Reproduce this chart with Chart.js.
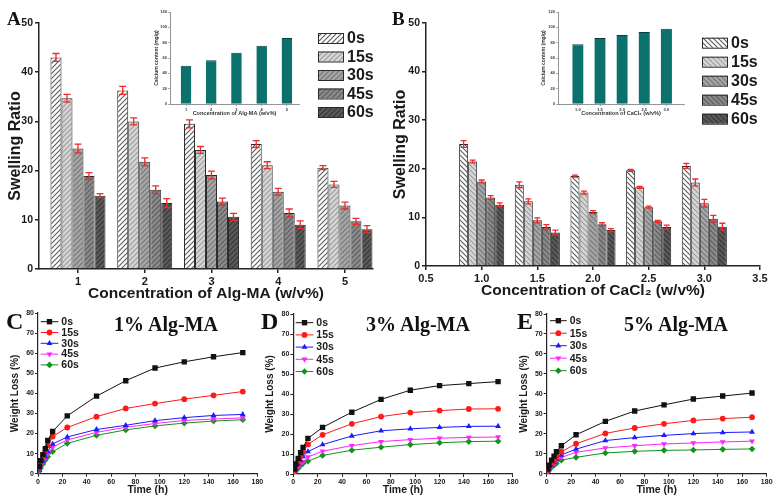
<!DOCTYPE html>
<html>
<head>
<meta charset="utf-8">
<script src="https://cdn.jsdelivr.net/npm/chart.js@4.4.1/dist/chart.umd.min.js"></script>
<style>
  body { margin: 0; background: #fff; }
  #fig { position: relative; width: 778px; height: 503px; overflow: hidden; background: #fff; }
  .panel { position: absolute; }
  .letter { position: absolute; font: bold 19px "Times New Roman", "Liberation Serif", serif; line-height: 1; color: #111; }
  .big { font-size: 24px; }
  .title { position: absolute; width: 130px; text-align: center; font: bold 20px "Times New Roman", "Liberation Serif", serif; line-height: 1; color: #111; }
</style>
</head>
<body>
<div id="fig">
  <div class="panel" style="left:0;top:0;width:390px;height:305px"><canvas id="chartA"></canvas></div>
  <div class="panel" style="left:385px;top:0;width:393px;height:305px"><canvas id="chartB"></canvas></div>
  <div class="panel" style="left:150px;top:0;width:160px;height:122px"><canvas id="insetA"></canvas></div>
  <div class="panel" style="left:535px;top:0;width:160px;height:122px"><canvas id="insetB"></canvas></div>
  <div class="panel" style="left:0;top:300px;width:270px;height:203px"><canvas id="chartC"></canvas></div>
  <div class="panel" style="left:255px;top:300px;width:270px;height:203px"><canvas id="chartD"></canvas></div>
  <div class="panel" style="left:510px;top:300px;width:268px;height:203px"><canvas id="chartE"></canvas></div>
  <div class="letter" style="left:7px;top:9px">A</div>
  <div class="letter" style="left:392px;top:9px">B</div>
  <div class="letter big" style="left:6px;top:309px">C</div>
  <div class="letter big" style="left:261px;top:309px">D</div>
  <div class="letter big" style="left:517px;top:309px">E</div>
  <div class="title" style="left:101px;top:314px">1% Alg-MA</div>
  <div class="title" style="left:353px;top:314px">3% Alg-MA</div>
  <div class="title" style="left:611px;top:314px">5% Alg-MA</div>
</div>
<script>
Chart.defaults.font.family = 'Arial, "Liberation Sans", sans-serif';
Chart.defaults.font.weight = 'bold';
Chart.defaults.color = "#1a1a1a";
Chart.defaults.animation = false;

// ---- data ----
const cureTimes = ["0s", "15s", "30s", "45s", "60s"];

const algConc = [1, 2, 3, 4, 5];
const swellingAlg = [
  [43.0, 36.3, 29.5, 25.4, 20.6],
  [34.7, 30.0, 24.2, 21.1, 17.2],
  [24.5, 21.8, 19.1, 15.7, 12.9],
  [18.9, 16.1, 13.7, 11.4, 9.7],
  [14.9, 13.4, 10.6, 9.0, 8.1]
];
const swellingAlgErr = [
  [0.8, 0.8, 0.8, 0.7, 0.4],
  [0.8, 0.7, 0.7, 0.7, 0.6],
  [0.9, 0.8, 0.8, 0.7, 0.7],
  [0.7, 0.8, 0.7, 0.8, 0.6],
  [0.4, 0.9, 0.7, 0.8, 0.7]
];

const caConc = [1.0, 1.5, 2.0, 2.5, 3.0];
const swellingCa = [
  [25.1, 16.7, 18.5, 19.7, 20.6],
  [21.5, 13.3, 15.1, 16.2, 17.2],
  [17.4, 9.4, 11.1, 12.1, 12.9],
  [14.1, 8.0, 8.6, 9.2, 9.7],
  [12.6, 6.9, 7.4, 8.0, 8.1]
];
const swellingCaErr = [
  [0.7, 0.6, 0.2, 0.2, 0.5],
  [0.3, 0.5, 0.3, 0.2, 0.7],
  [0.3, 0.5, 0.3, 0.2, 0.8],
  [0.4, 0.5, 0.3, 0.2, 0.7],
  [0.4, 0.5, 0.3, 0.4, 0.7]
];

const calciumAlg = [50, 57, 67, 76, 86];
const calciumCa = [78, 86, 90, 94, 98];

const hours = [1, 2, 4, 6, 8, 12, 24, 48, 72, 96, 120, 144, 168];
const loss1 = [
  [3.5, 6.5, 9.5, 12.5, 16.5, 21.0, 28.8, 38.6, 46.3, 52.6, 55.7, 58.2, 60.3],
  [3.0, 5.5, 8.5, 11.0, 14.0, 18.5, 23.0, 28.4, 32.5, 34.9, 37.1, 39.0, 40.9],
  [2.0, 4.0, 6.3, 8.5, 11.0, 14.8, 18.3, 22.0, 24.1, 26.4, 27.9, 29.0, 29.5],
  [1.7, 3.5, 5.6, 7.6, 9.8, 13.2, 16.8, 20.6, 23.1, 25.0, 26.5, 27.2, 27.8],
  [1.2, 2.7, 4.8, 6.8, 8.5, 11.0, 15.1, 19.1, 21.8, 23.8, 25.2, 26.2, 26.9]
];
const loss3 = [
  [2.5, 5.0, 7.8, 10.7, 13.3, 17.8, 23.3, 30.9, 37.3, 41.9, 44.2, 45.2, 46.2],
  [2.0, 3.7, 6.2, 8.7, 11.2, 14.8, 19.6, 25.1, 28.7, 30.7, 31.7, 32.5, 32.6],
  [1.5, 2.8, 4.8, 6.7, 8.7, 11.2, 14.7, 19.0, 21.6, 22.6, 23.3, 23.8, 23.9],
  [1.0, 2.0, 3.7, 5.0, 6.2, 8.5, 11.4, 14.2, 16.2, 17.2, 17.9, 18.3, 18.5],
  [0.8, 1.7, 2.8, 4.3, 5.3, 6.4, 9.3, 11.9, 13.4, 14.7, 15.6, 16.2, 16.4]
];
const loss5 = [
  [2.3, 4.3, 6.8, 8.8, 11.0, 14.0, 19.5, 26.2, 31.4, 34.5, 37.4, 38.9, 40.4],
  [1.8, 3.0, 5.2, 6.8, 8.5, 11.0, 15.0, 20.2, 22.9, 25.0, 26.7, 27.6, 28.3],
  [1.5, 2.7, 4.3, 5.7, 7.2, 9.4, 12.3, 16.6, 18.1, 19.2, 20.1, 20.6, 20.9],
  [1.2, 2.2, 4.0, 5.2, 6.5, 8.2, 10.7, 12.9, 14.0, 14.9, 15.4, 15.9, 16.3],
  [1.0, 1.8, 3.2, 4.2, 5.2, 6.8, 8.2, 10.4, 11.2, 11.7, 11.9, 12.2, 12.4]
];

// ---- styles ----
const hatchBg = ["#ffffff", "#d6d6d6", "#a6a6a6", "#8a8a8a", "#5a5a5a"];
const hatchFg = ["#5a5a5a", "#9c9c9c", "#747474", "#5c5c5c", "#363636"];
const lineColors = ["#111111", "#ff1a1a", "#1a1aff", "#ff22ff", "#12931a"];
const lineMarkers = ["rect", "circle", "triangle", "triangle", "rectRot"];
const markerTurn = [0, 0, 0, 180, 0];
const markerSize = [3.8, 2.9, 3.4, 3.4, 3.3];

function hatch(bg, fg, slash) {
  const s = 5;
  const c = document.createElement("canvas");
  c.width = s;
  c.height = s;
  const g = c.getContext("2d");
  g.fillStyle = bg;
  g.fillRect(0, 0, s, s);
  g.strokeStyle = fg;
  g.lineWidth = 1.1;
  g.beginPath();
  if (slash) {
    g.moveTo(0, s); g.lineTo(s, 0);
    g.moveTo(-1, 1); g.lineTo(1, -1);
    g.moveTo(s - 1, s + 1); g.lineTo(s + 1, s - 1);
  } else {
    g.moveTo(0, 0); g.lineTo(s, s);
    g.moveTo(-1, s - 1); g.lineTo(1, s + 1);
    g.moveTo(s - 1, -1); g.lineTo(s + 1, 1);
  }
  g.stroke();
  return g.createPattern(c, "repeat");
}

function drawMarker(ctx, style, turn, x, y, r) {
  ctx.beginPath();
  if (style === "rect") {
    const h = r * Math.SQRT1_2;
    ctx.rect(x - h, y - h, 2 * h, 2 * h);
  } else if (style === "circle") {
    ctx.arc(x, y, r, 0, Math.PI * 2);
  } else if (style === "rectRot") {
    ctx.moveTo(x, y - r); ctx.lineTo(x + r, y); ctx.lineTo(x, y + r); ctx.lineTo(x - r, y);
  } else {
    const a0 = (turn * Math.PI) / 180 - Math.PI / 2;
    for (let k = 0; k < 3; k += 1) {
      const a = a0 + (k * 2 * Math.PI) / 3;
      const px = x + r * Math.cos(a);
      const py = y + r * Math.sin(a);
      if (k === 0) ctx.moveTo(px, py); else ctx.lineTo(px, py);
    }
  }
  ctx.closePath();
  ctx.fill();
}

// legend drawn inside the plot, like the original figure
function boxLegend(cfg) {
  return {
    id: "boxLegend",
    afterDraw(chart) {
      const ctx = chart.ctx;
      ctx.save();
      ctx.font = "bold 16px Arial, 'Liberation Sans', sans-serif";
      ctx.textBaseline = "middle";
      chart.data.datasets.forEach((ds, i) => {
        const y = cfg.y + i * cfg.step;
        ctx.fillStyle = ds.backgroundColor;
        ctx.fillRect(cfg.x, y - 5, 25, 10);
        ctx.strokeStyle = "#2a2a2a";
        ctx.lineWidth = 1;
        ctx.strokeRect(cfg.x + 0.5, y - 5 + 0.5, 25, 10);
        ctx.fillStyle = "#1a1a1a";
        ctx.fillText(ds.label, cfg.x + 29, y + 1);
      });
      ctx.restore();
    }
  };
}

function lineLegend(cfg) {
  return {
    id: "lineLegend",
    afterDraw(chart) {
      const ctx = chart.ctx;
      ctx.save();
      ctx.font = "bold 10.5px Arial, 'Liberation Sans', sans-serif";
      ctx.textBaseline = "middle";
      chart.data.datasets.forEach((ds, i) => {
        const y = cfg.y + i * cfg.step;
        ctx.strokeStyle = ds.borderColor;
        ctx.fillStyle = ds.borderColor;
        ctx.lineWidth = 1;
        ctx.beginPath();
        ctx.moveTo(cfg.x, y);
        ctx.lineTo(cfg.x + cfg.w, y);
        ctx.stroke();
        drawMarker(ctx, ds.pointStyle, ds.rotation || 0, cfg.x + cfg.w / 2, y, ds.pointRadius);
        ctx.fillStyle = "#1a1a1a";
        ctx.fillText(ds.label, cfg.x + cfg.w + 3, y + 0.5);
      });
      ctx.restore();
    }
  };
}

const errorBars = {
  id: "errorBars",
  afterDatasetsDraw(chart) {
    const ctx = chart.ctx;
    const yScale = chart.scales.y;
    ctx.save();
    ctx.strokeStyle = "#ee2a2a";
    ctx.lineWidth = 1.3;
    chart.data.datasets.forEach((ds, i) => {
      if (!ds.errors) return;
      chart.getDatasetMeta(i).data.forEach((bar, j) => {
        const v = ds.data[j].y;
        const e = ds.errors[j];
        const top = yScale.getPixelForValue(v + e);
        const bot = yScale.getPixelForValue(v - e);
        const half = ds.capHalf;
        ctx.beginPath();
        ctx.moveTo(bar.x, top); ctx.lineTo(bar.x, bot);
        ctx.moveTo(bar.x - half, top); ctx.lineTo(bar.x + half, top);
        ctx.moveTo(bar.x - half, bot); ctx.lineTo(bar.x + half, bot);
        ctx.stroke();
      });
    });
    ctx.restore();
  }
};

function axisLine(width, color) {
  return { color, width };
}

function swellingChart(id, xs, rows, errs, opts) {
  new Chart(document.getElementById(id), {
    type: "bar",
    data: {
      datasets: rows.map((row, i) => ({
        label: cureTimes[i],
        data: xs.map((x, k) => ({ x, y: row[k] })),
        errors: errs[i],
        capHalf: opts.capHalf,
        backgroundColor: hatch(hatchBg[i], hatchFg[i], opts.slash),
        borderColor: "#2a2a2a",
        borderWidth: 1,
        categoryPercentage: opts.group,
        barPercentage: 1
      }))
    },
    options: {
      responsive: true,
      maintainAspectRatio: false,
      events: [],
      layout: { padding: { top: 23, right: opts.right, bottom: 0, left: 0 } },
      plugins: { legend: { display: false }, tooltip: { enabled: false } },
      scales: {
        x: {
          type: "linear",
          min: opts.xMin,
          max: opts.xMax,
          offset: false,
          afterBuildTicks: opts.ticks ? (axis) => { axis.ticks = opts.ticks.map((value) => ({ value })); } : undefined,
          ticks: { stepSize: opts.step, font: { size: 11 }, padding: 2, callback: opts.fmt },
          grid: { offset: false, drawOnChartArea: false, tickLength: 4, color: "#222", lineWidth: 1.5 },
          border: axisLine(1.5, "#222"),
          title: { display: true, text: opts.xTitle, font: { size: 15.5 }, padding: { top: 0, bottom: opts.titlePad } },
          afterFit(scale) { scale.height = opts.xHeight; }
        },
        y: {
          min: 0,
          max: 50,
          ticks: { stepSize: 10, font: { size: 10.5 }, padding: 2 },
          grid: { drawOnChartArea: false, tickLength: 4, color: "#222", lineWidth: 1.5 },
          border: axisLine(1.5, "#222"),
          title: { display: true, text: "Swelling Ratio", font: { size: 16 }, padding: { top: 6, bottom: 0 } },
          afterFit(scale) { scale.width = opts.yWidth; }
        }
      }
    },
    plugins: [errorBars, boxLegend(opts.legend)]
  });
}

swellingChart("chartA", algConc, swellingAlg, swellingAlgErr, {
  slash: true, group: 0.824, capHalf: 3.5, right: 17, xMin: 0.416, xMax: 5.42,
  ticks: algConc, step: 1, fmt: undefined,
  xTitle: "Concentration of Alg-MA (w/v%)", titlePad: 2, xHeight: 36, yWidth: 39,
  legend: { x: 318, y: 38, step: 18.5 }
});

swellingChart("chartB", caConc, swellingCa, swellingCaErr, {
  slash: false, group: 0.81, capHalf: 3, right: 18, xMin: 0.5, xMax: 3.5,
  ticks: null, step: 0.5, fmt: (v) => Number(v).toFixed(1),
  xTitle: "Concentration of CaCl\u2082 (w/v%)", titlePad: 5, xHeight: 39, yWidth: 41,
  legend: { x: 317, y: 42.7, step: 19 }
});

function calciumInset(id, xs, values, opts) {
  new Chart(document.getElementById(id), {
    type: "bar",
    data: {
      datasets: [{
        data: xs.map((x, k) => ({ x, y: values[k] })),
        backgroundColor: "#0a716d",
        borderColor: "#083f3d",
        borderWidth: { top: 1, left: 0, right: 0, bottom: 0 },
        categoryPercentage: 1,
        barPercentage: opts.bar
      }]
    },
    options: {
      responsive: true,
      maintainAspectRatio: false,
      events: [],
      layout: { padding: { top: 12, right: opts.right, bottom: 0, left: 0 } },
      plugins: { legend: { display: false }, tooltip: { enabled: false } },
      scales: {
        x: {
          type: "linear",
          min: opts.xMin,
          max: opts.xMax,
          offset: false,
          afterBuildTicks: (axis) => { axis.ticks = xs.map((value) => ({ value })); },
          ticks: { font: { size: 4 }, padding: 1, color: "#333", callback: opts.fmt },
          grid: { offset: false, drawOnChartArea: false, tickLength: 2, color: "#777", lineWidth: 0.6 },
          border: axisLine(0.8, "#777"),
          title: { display: true, text: opts.xTitle, color: "#333", font: { size: 5.5 }, padding: { top: 0, bottom: 5.7 } },
          afterFit(scale) { scale.height = 18; }
        },
        y: {
          min: 0,
          max: 120,
          ticks: { stepSize: 20, font: { size: 4 }, padding: 1, color: "#333" },
          grid: { drawOnChartArea: false, tickLength: 2, color: "#777", lineWidth: 0.6 },
          border: axisLine(0.8, "#777"),
          title: { display: true, text: "Calcium content (mg/g)", color: "#333", font: { size: 5 }, padding: { top: opts.yPad, bottom: 0 } },
          afterFit(scale) { scale.width = opts.yWidth; }
        }
      }
    }
  });
}

calciumInset("insetA", algConc, calciumAlg, {
  xMin: 0.365, xMax: 5.48, bar: 0.42, right: 11, yWidth: 20, yPad: 4,
  fmt: (v) => String(v), xTitle: "Concentration of Alg-MA (w/v%)"
});
calciumInset("insetB", caConc, calciumCa, {
  xMin: 0.55, xMax: 3.4, bar: 0.51, right: 11, yWidth: 23, yPad: 6,
  fmt: (v) => Number(v).toFixed(1), xTitle: "Concentration of CaCl\u2082 (w/v%)"
});

function lossChart(id, rows, opts) {
  new Chart(document.getElementById(id), {
    type: "line",
    data: {
      datasets: rows.map((row, i) => ({
        label: cureTimes[i],
        data: hours.map((x, k) => ({ x, y: row[k] })),
        borderColor: lineColors[i],
        backgroundColor: lineColors[i],
        borderWidth: 1,
        pointStyle: lineMarkers[i],
        rotation: markerTurn[i],
        pointRadius: markerSize[i],
        pointBorderWidth: 0,
        tension: 0,
        fill: false
      }))
    },
    options: {
      responsive: true,
      maintainAspectRatio: false,
      events: [],
      layout: { padding: { top: opts.top, right: opts.right, bottom: 0, left: 0 } },
      plugins: { legend: { display: false }, tooltip: { enabled: false } },
      scales: {
        x: {
          type: "linear",
          min: 0,
          max: 180,
          ticks: { stepSize: 20, font: { size: 7 }, padding: 1 },
          grid: { drawOnChartArea: false, tickLength: 3, color: "#222", lineWidth: 1 },
          border: axisLine(1.2, "#222"),
          title: { display: true, text: "Time (h)", font: { size: 10.5 }, padding: { top: 0, bottom: 6.5 } },
          afterFit(scale) { scale.height = opts.xHeight; }
        },
        y: {
          min: 0,
          max: 80,
          ticks: { stepSize: 10, font: { size: 7 }, padding: 1 },
          grid: { drawOnChartArea: false, tickLength: 3, color: "#222", lineWidth: 1 },
          border: axisLine(1.2, "#222"),
          title: { display: true, text: "Weight Loss (%)", font: { size: 10 }, padding: { top: opts.yPad, bottom: 0 } },
          afterFit(scale) { scale.width = opts.yWidth; }
        }
      }
    },
    plugins: [lineLegend(opts.legend)]
  });
}

lossChart("chartC", loss1, {
  top: 13, right: 12.6, xHeight: 29.3, yWidth: 38, yPad: 9.5,
  legend: { x: 40.7, w: 17.6, y: 21.7, step: 10.8 }
});
lossChart("chartD", loss3, {
  top: 14, right: 12.3, xHeight: 29, yWidth: 38.3, yPad: 9.5,
  legend: { x: 40.7, w: 17.6, y: 22.7, step: 12.2 }
});
lossChart("chartE", loss5, {
  top: 14, right: 11.3, xHeight: 29.3, yWidth: 36.7, yPad: 8.5,
  legend: { x: 40, w: 16.7, y: 20.7, step: 12.5 }
});
</script>
</body>
</html>
